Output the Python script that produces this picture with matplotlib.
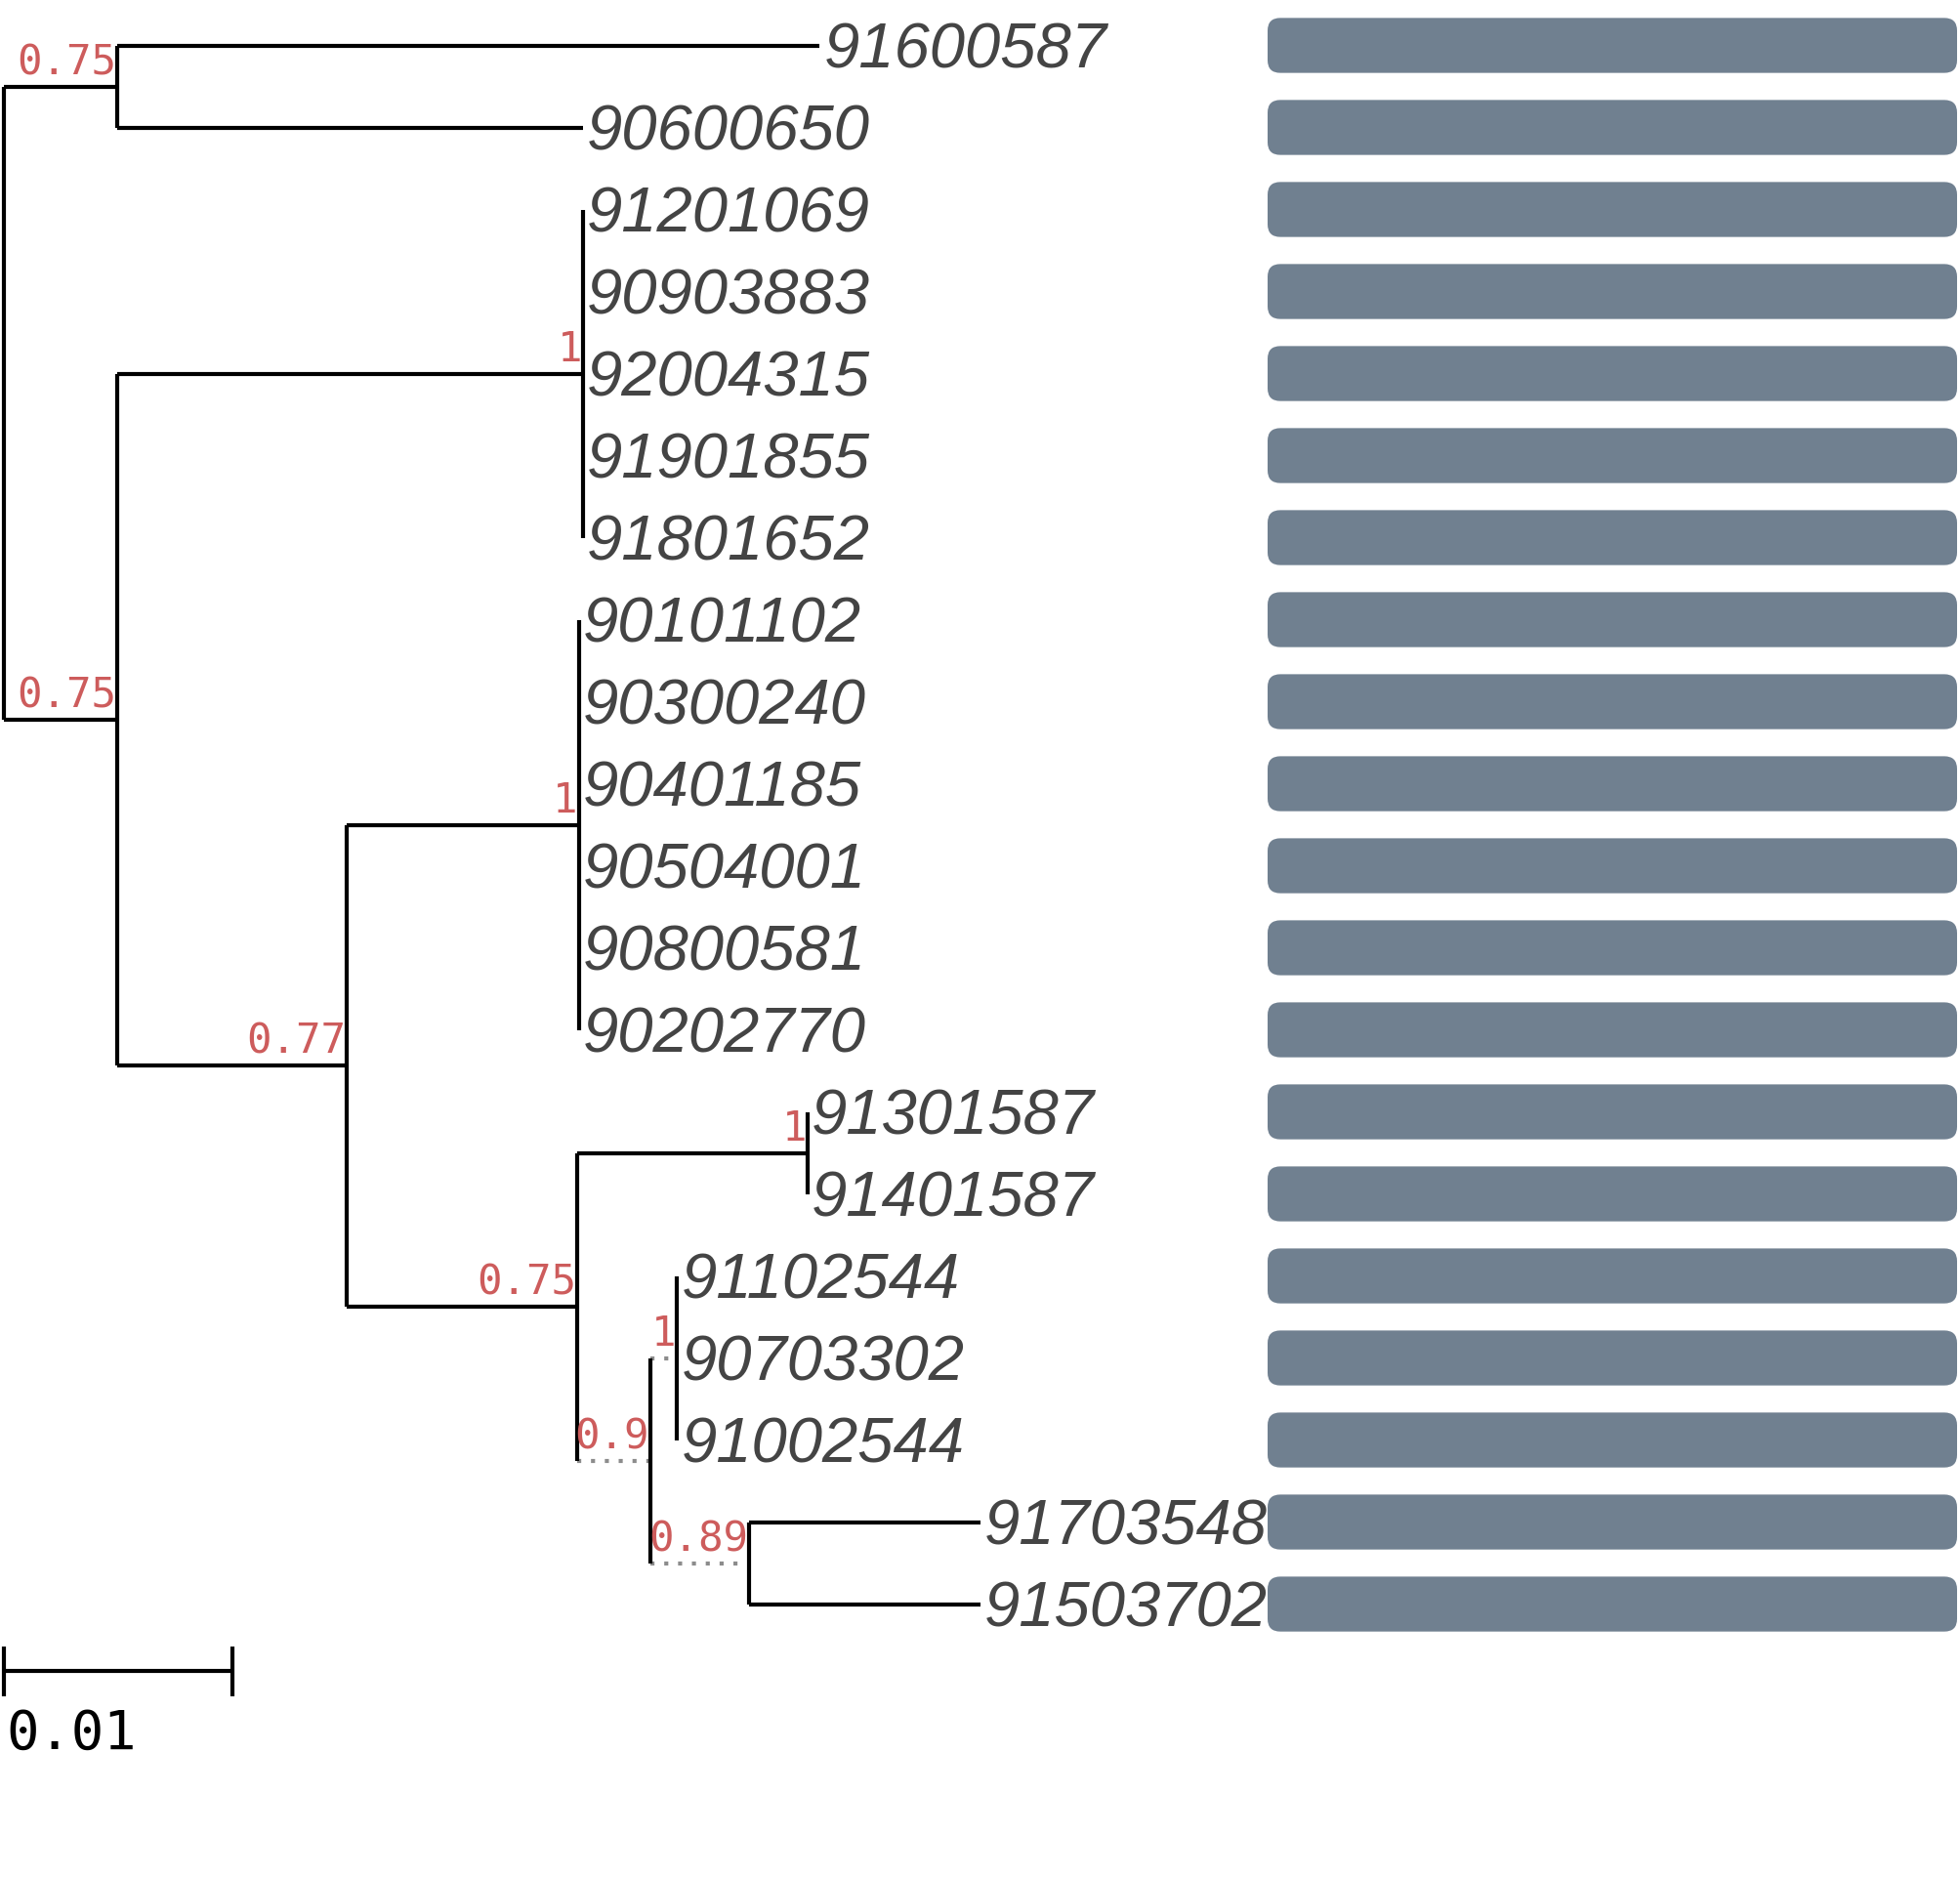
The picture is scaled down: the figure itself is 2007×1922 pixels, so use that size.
import matplotlib
matplotlib.use("Agg")
import matplotlib.pyplot as plt
from matplotlib.patches import FancyBboxPatch

# tips, top to bottom
tip_labels = ["91600587", "90600650",
              "91201069", "90903883", "92004315", "91901855", "91801652",
              "90101102", "90300240", "90401185", "90504001", "90800581", "90202770",
              "91301587", "91401587",
              "91102544", "90703302", "91002544",
              "91703548", "91503702"]
tip_parent = ["n1", "n1",
              "cA", "cA", "cA", "cA", "cA",
              "cB", "cB", "cB", "cB", "cB", "cB",
              "cC", "cC",
              "cD", "cD", "cD",
              "n6", "n6"]
tip_length = [0.03076, 0.02040,
              0, 0, 0, 0, 0,
              0, 0, 0, 0, 0, 0,
              0, 0,
              0, 0, 0,
              0.01010, 0.01010]

# internal nodes
node_ids = ["root", "n1", "n2", "cA", "n3", "cB", "n4", "cC", "n5", "cD", "n6"]
node_parent = [None, "root", "root", "n2", "n2", "n3", "n3", "n4", "n4", "n5", "n5"]
node_length = [0, 0.00494, 0.00494, 0.02040, 0.01004, 0.01017, 0.01010, 0.01009,
               0.00319, 0.00118, 0.00435]
node_support = [None, "0.75", "0.75", "1", "0.77", "1", "0.75", "1", "0.9", "1", "0.89"]
node_dotted = [False, False, False, False, False, False, False, False, True, True, True]

bar_values = [1, 1, 1, 1, 1, 1, 1, 1, 1, 1, 1, 1, 1, 1, 1, 1, 1, 1, 1, 1]
scale_len = 0.01

# ---- layout of the tree ----
parent = {}
length = {}
for n, p, l in zip(node_ids, node_parent, node_length):
    parent[n] = p
    length[n] = l
for n, p, l in zip(tip_labels, tip_parent, tip_length):
    parent[n] = p
    length[n] = l

children = {n: [] for n in node_ids}
for n, p in parent.items():
    if p is not None:
        children[p].append(n)

depth = {}
def get_depth(n):
    if n not in depth:
        p = parent[n]
        depth[n] = 0.0 if p is None else get_depth(p) + length[n]
    return depth[n]

ypos = {t: i for i, t in enumerate(tip_labels)}
def get_y(n):
    if n not in ypos:
        ypos[n] = sum(get_y(c) for c in children[n]) / len(children[n])
    return ypos[n]

for n in parent:
    get_depth(n)
    get_y(n)

dotted = dict(zip(node_ids, node_dotted))

fig = plt.figure(figsize=(20.07, 19.22), dpi=100)
px_per_unit = 23400
ylims = (22.327, -0.5536)

ax = fig.add_axes([0, 0, 1, 1])
ax.set_xlim(-4 / px_per_unit, 2003 / px_per_unit)
ax.set_ylim(*ylims)
ax.axis("off")

lw = 3.0
for n in parent:
    p = parent[n]
    if p is None:
        continue
    x0, x1, y = depth[p], depth[n], ypos[n]
    if x1 - x0 <= 0:
        continue
    if dotted.get(n, False):
        ax.plot([x0, x1], [y, y], color="#8c8c8c", lw=lw, linestyle=(0, (1, 2.4)))
    else:
        ax.plot([x0, x1], [y, y], color="black", lw=lw, solid_capstyle="butt")

for n in node_ids:
    ys = [ypos[c] for c in children[n]]
    ax.plot([depth[n], depth[n]], [min(ys), max(ys)], color="black", lw=lw,
            solid_capstyle="butt")

for n, s in zip(node_ids, node_support):
    if s is None:
        continue
    ax.annotate(s, xy=(depth[n], ypos[n]), xytext=(-0.5, 9), textcoords="offset points",
                ha="right", va="baseline", color="#CD5C5C",
                family="DejaVu Sans Mono", fontsize=30.5)

for t in tip_labels:
    ax.annotate(t, xy=(depth[t], ypos[t]), xytext=(3, -16.5), textcoords="offset points",
                ha="left", va="baseline", color="#444444",
                family="Liberation Sans", style="italic", fontsize=47)

# scale bar
sy = 19.82
ax.plot([0, scale_len], [sy, sy], color="black", lw=lw, solid_capstyle="butt")
for sx in [0, scale_len]:
    ax.plot([sx, sx], [sy - 0.30, sy + 0.30], color="black", lw=lw, solid_capstyle="butt")
ax.annotate(str(scale_len), xy=(0, sy), xytext=(2, -57.5), textcoords="offset points",
            ha="left", va="baseline", color="black",
            family="DejaVu Sans Mono", fontsize=40)

# bars
bx0, bx1 = 1298, 2004
axb = fig.add_axes([bx0 / 2007, 0, (bx1 - bx0) / 2007, 1])
axb.set_xlim(0, max(bar_values))
axb.set_ylim(*ylims)
axb.axis("off")
bh = 0.67
x_per_px = max(bar_values) / (bx1 - bx0)
y_per_px = 1 / 84
for i, v in enumerate(bar_values):
    axb.add_patch(FancyBboxPatch((0, i - bh / 2), v, bh,
                                 boxstyle="round,pad=0,rounding_size=%f" % (13 * x_per_px),
                                 mutation_aspect=y_per_px / x_per_px,
                                 facecolor="#708090", edgecolor="none"))

fig.savefig("out.png", dpi=100)
